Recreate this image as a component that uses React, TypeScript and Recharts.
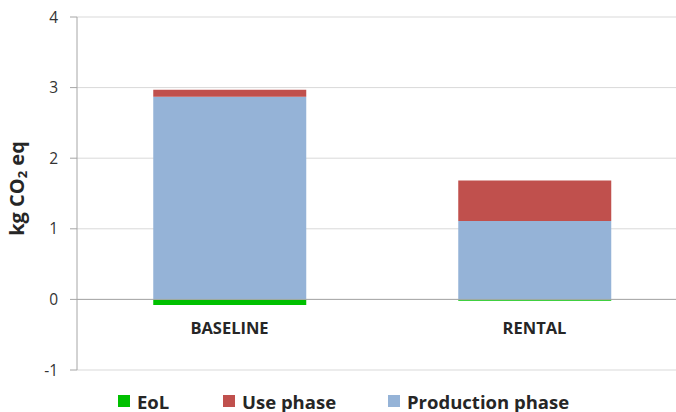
import React from 'react'
import {
  BarChart,
  Bar,
  XAxis,
  YAxis,
  CartesianGrid,
  ReferenceLine,
  Legend,
  Label,
} from 'recharts'

const categories = ['BASELINE', 'RENTAL']
const eol = [-0.08, -0.02]
const usePhase = [0.1, 0.575]
const production = [2.87, 1.11]
const yTicks = [-1, 0, 1, 2, 3, 4]

const series = [
  { key: 'eol', name: 'EoL', color: '#00c000' },
  { key: 'use', name: 'Use phase', color: '#c0504d' },
  { key: 'production', name: 'Production phase', color: '#95b3d7' },
]

const data = categories.map((name, i) => ({
  name,
  eol: eol[i],
  use: usePhase[i],
  production: production[i],
}))

const FONT = '"Open Sans", "Liberation Sans", sans-serif'

function CategoryTick(props: any) {
  const { x, y, payload } = props
  // Excel puts the category labels just under the zero line
  return (
    <text
      x={x}
      y={y - 43}
      textAnchor="middle"
      dominantBaseline="central"
      fontFamily={FONT}
      fontWeight={700}
      fontSize={16.5}
      fill="#262626"
    >
      {payload.value}
    </text>
  )
}

function YTitle({ viewBox }: any) {
  const cy = viewBox.y + viewBox.height / 2 - 5
  return (
    <text
      x={16}
      y={cy}
      transform={`rotate(-90 16 ${cy})`}
      textAnchor="middle"
      dominantBaseline="central"
      fontFamily={FONT}
      fontWeight={700}
      fontSize={20}
      fill="#262626"
    >
      kg CO
      <tspan fontSize={13} dy={6}>2</tspan>
      <tspan dy={-6}> eq</tspan>
    </text>
  )
}

const itemWidths = [105, 165, 200]

function LegendRow() {
  return (
    <div style={{ width: 690, height: 41, paddingTop: 20, boxSizing: 'border-box' }}>
      <div style={{ display: 'flex', alignItems: 'center', height: 20, paddingLeft: 118 }}>
        {series.map((s, i) => (
          <div key={s.key} style={{ display: 'flex', alignItems: 'center', width: itemWidths[i] }}>
            <span style={{ width: 12, height: 12, background: s.color, marginRight: 7 }} />
            <span
              style={{
                fontFamily: FONT,
                fontWeight: 700,
                fontSize: 18.5,
                color: '#262626',
                whiteSpace: 'nowrap',
              }}
            >
              {s.name}
            </span>
          </div>
        ))}
      </div>
    </div>
  )
}

export default function App() {
  return (
    <div
      style={{
        position: 'absolute',
        left: 0,
        top: 0,
        width: 676,
        height: 412,
        overflow: 'hidden',
        background: '#fff',
      }}
    >
      <BarChart
        width={690}
        height={412}
        data={data}
        stackOffset="sign"
        barCategoryGap="25%"
        margin={{ top: 17, right: 3, bottom: 0, left: 0 }}
      >
        <CartesianGrid horizontal vertical={false} stroke="#d9d9d9" />
        <XAxis
          dataKey="name"
          height={1}
          axisLine={false}
          tickLine={false}
          tickMargin={0}
          tickSize={0}
          tick={(p: any) => <CategoryTick {...p} />}
          interval={0}
        />
        <YAxis
          width={77}
          domain={[-1, 4]}
          ticks={yTicks}
          interval={0}
          axisLine={{ stroke: '#a6a6a6' }}
          tickLine={{ stroke: '#a6a6a6' }}
          tickSize={7}
          tickMargin={12}
          tick={{ fill: '#333333', fontSize: 15.5, fontFamily: FONT }}
        >
          <Label content={<YTitle />} />
        </YAxis>
        <ReferenceLine y={0} stroke="#a6a6a6" />
        <Bar dataKey="production" name="Production phase" stackId="a" fill="#95b3d7" isAnimationActive={false} />
        <Bar dataKey="use" name="Use phase" stackId="a" fill="#c0504d" isAnimationActive={false} />
        <Bar dataKey="eol" name="EoL" stackId="a" fill="#00c000" isAnimationActive={false} />
        <Legend
          verticalAlign="bottom"
          align="left"
          content={<LegendRow />}
          wrapperStyle={{ left: 0, width: 690 }}
        />
      </BarChart>
    </div>
  )
}
